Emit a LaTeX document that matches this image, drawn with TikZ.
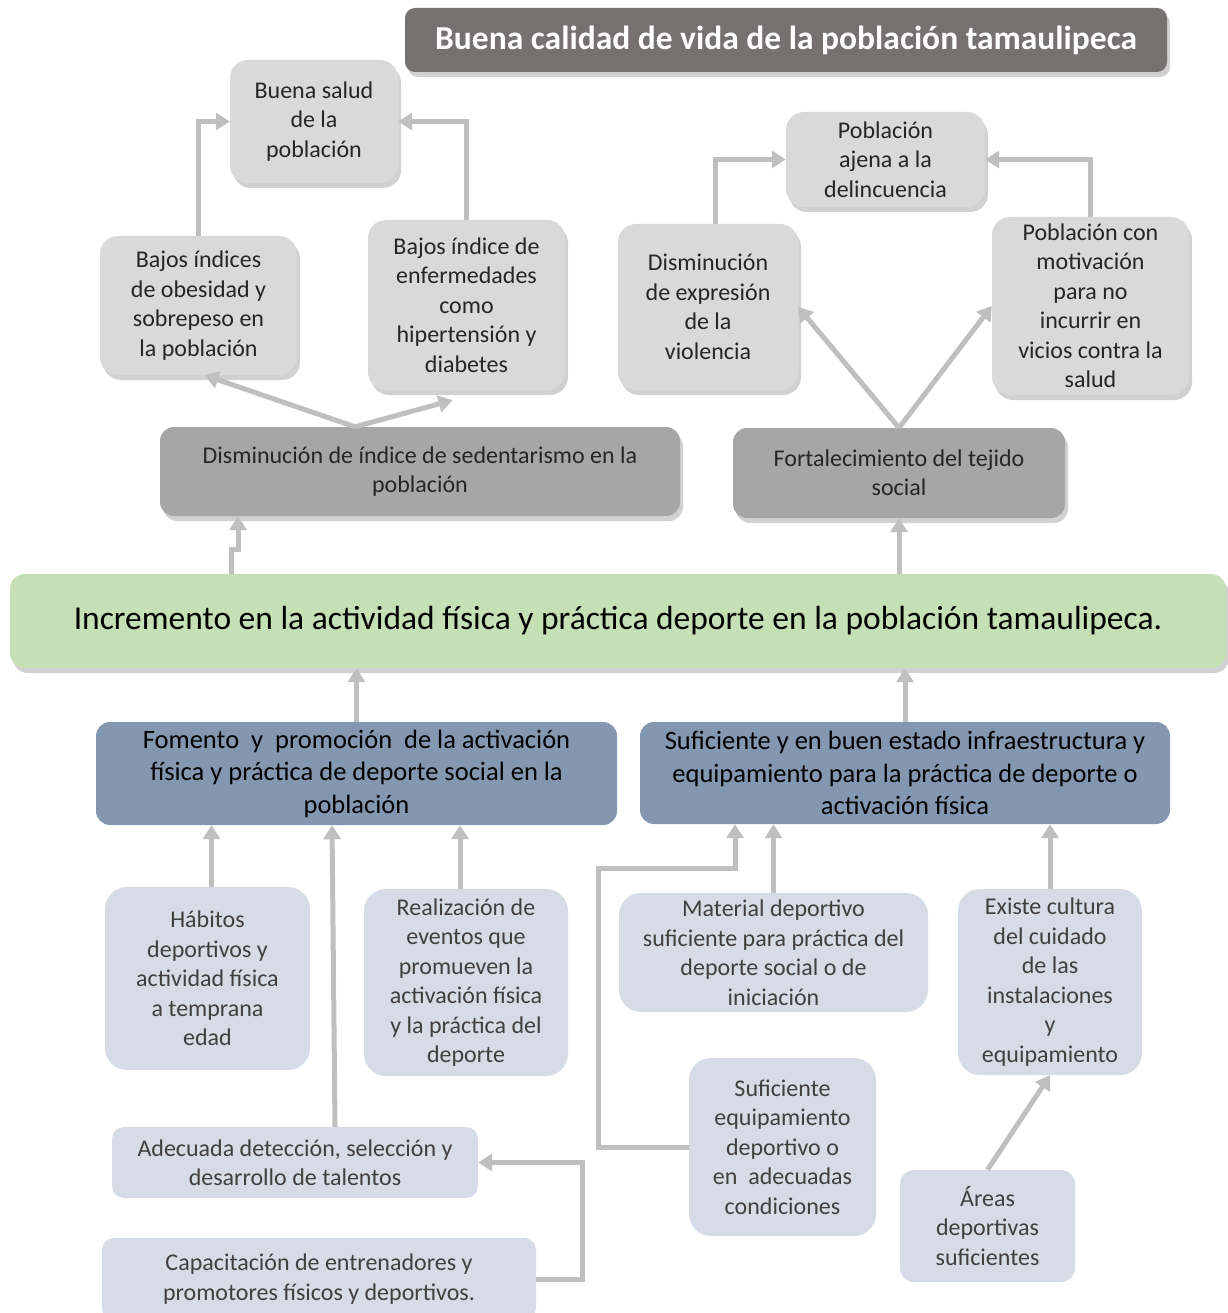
\documentclass[tikz,border=0pt]{standalone}
\usepackage{fontspec}
\setmainfont{Carlito}
\usetikzlibrary{positioning,arrows.meta,shadows}

\definecolor{titlegray}{HTML}{757171}
\definecolor{boxgray}{HTML}{D9D9D9}
\definecolor{midgray}{HTML}{A6A6A6}
\definecolor{goalgreen}{HTML}{C5E0B4}
\definecolor{causeblue}{HTML}{8497B0}
\definecolor{rootblue}{HTML}{D6DCE5}
\definecolor{arrowgray}{HTML}{BFBFBF}

\begin{document}
\begin{tikzpicture}[x=1pt, y=-1pt,
  boxbase/.style={align=center, inner sep=2pt, font=\fontsize{24}{29.5}\selectfont, text=black!85},
  shade/.style={drop shadow={shadow xshift=3pt, shadow yshift=-5pt, opacity=0.3, fill=black!60}},
  toptitle/.style={boxbase, rounded corners=10pt, fill=titlegray, text=white, shade, font=\fontsize{33.5}{40}\selectfont\bfseries},
  effect/.style={boxbase, rounded corners=18pt, fill=boxgray, shade},
  midbox/.style={boxbase, rounded corners=14pt, fill=midgray, shade},
  goal/.style={boxbase, rounded corners=15pt, fill=goalgreen, shade, text=black, font=\fontsize{33.5}{40}\selectfont},
  cause/.style={boxbase, rounded corners=14pt, fill=causeblue, text=black, font=\fontsize{26.5}{32.5}\selectfont},
  root/.style={boxbase, rounded corners=22pt, fill=rootblue, text=black!75},
  link/.style={draw=arrowgray, line width=5pt, -{Triangle[length=14pt,width=17pt]}}
]
\useasboundingbox (0,0) rectangle (1227,1313);

% Nodes
\node[toptitle, minimum width=762pt, minimum height=64pt] (vida) at (786,40) {Buena calidad de vida de la población tamaulipeca};

\node[effect, minimum width=168pt, minimum height=123pt] (salud) at (314,121.5) {Buena salud\\de la\\población};
\node[effect, minimum width=197pt, minimum height=139pt] (obes) at (198.5,305.5) {Bajos índices\\de obesidad y\\sobrepeso en\\la población};
\node[effect, minimum width=197pt, minimum height=170pt] (enf) at (466.5,305) {Bajos índice de\\enfermedades\\como\\hipertensión y\\diabetes};
\node[effect, minimum width=199pt, minimum height=95pt] (ajena) at (885.5,159.5) {Población\\ajena a la\\delincuencia};
\node[effect, minimum width=180pt, minimum height=166pt] (dis) at (708,307) {Disminución\\de expresión\\de la\\violencia};
\node[effect, minimum width=197pt, minimum height=178pt] (mot) at (1090.5,306) {Población con\\motivación\\para no\\incurrir en\\vicios contra la\\salud};

\node[midbox, minimum width=520pt, minimum height=89pt] (sed) at (420,471.5) {Disminución de índice de sedentarismo en la\\población};
\node[midbox, minimum width=332pt, minimum height=90pt] (fort) at (899,473) {Fortalecimiento del tejido\\social};

\node[goal, minimum width=1216pt, minimum height=94pt] (gr) at (618,621) {Incremento en la actividad física y práctica deporte en la población tamaulipeca.};

\node[cause, minimum width=521pt, minimum height=103pt] (fom) at (356.5,773.5) {Fomento\ \ y\ \ promoción\ \ de la activación\\física y práctica de deporte social en la\\población};
\node[cause, minimum width=530pt, minimum height=102pt] (inf) at (905,773) {Suficiente y en buen estado infraestructura y\\equipamiento para la práctica de deporte o\\activación física};

\node[root, minimum width=205pt, minimum height=183pt] (hab) at (207.5,978.5) {Hábitos\\deportivos y\\actividad física\\a temprana\\edad};
\node[root, minimum width=204pt, minimum height=187pt] (rea) at (466,982.5) {Realización de\\eventos que\\promueven la\\activación física\\y la práctica del\\deporte};
\node[root, minimum width=309pt, minimum height=119pt] (mat) at (773.5,952.5) {Material deportivo\\suficiente para práctica del\\deporte social o de\\iniciación};
\node[root, minimum width=184pt, minimum height=186pt] (exi) at (1050,982) {Existe cultura\\del cuidado\\de las\\instalaciones\\y\\equipamiento};
\node[root, minimum width=366pt, minimum height=71pt, rounded corners=12pt] (ade) at (295,1162.5) {Adecuada detección, selección y\\desarrollo de talentos};
\node[root, minimum width=434pt, minimum height=82pt, rounded corners=12pt] (cap) at (319,1279) {Capacitación de entrenadores y\\promotores físicos y deportivos.};
\node[root, minimum width=187pt, minimum height=178pt] (seq) at (782.5,1147) {Suficiente\\equipamiento\\deportivo o\\en\ \ adecuadas\\condiciones};
\node[root, minimum width=175pt, minimum height=112pt, rounded corners=14pt] (are) at (987.5,1226) {Áreas\\deportivas\\suficientes};

% Edges
\draw[link] (obes.north) |- (salud.west);
\draw[link] (enf.north) |- (salud.east);
\coordinate (sedtop) at ([xshift=-65pt]sed.north);
\draw[link] (sedtop) -- ([xshift=6pt]obes.south);
\draw[link] (sedtop) -- ([xshift=-14pt,yshift=-10pt]enf.south);
\draw[link] ([xshift=7pt]dis.north) |- (ajena.west);
\draw[link] (mot.north) |- (ajena.east);
\draw[link] (fort.north) -- (dis.east);
\draw[link] (fort.north) -- (mot.west);

\draw[link] ([xshift=-387pt]gr.north) -- ++(0,-24) -- ++(7,0) -- ([xshift=-182pt]sed.south);
\draw[link] (fort.south |- gr.north) -- (fort.south);
\draw[link] (fom.north) -- (fom.north |- gr.south);
\draw[link] (inf.north) -- (inf.north |- gr.south);

\draw[link] ([xshift=4pt]hab.north) -- ([xshift=4pt]hab.north |- fom.south);
\draw[link] ([xshift=40pt]ade.north) -- ([xshift=37pt]ade.north |- fom.south);
\draw[link] ([xshift=-6pt]rea.north) -- ([xshift=-6pt]rea.north |- fom.south);
\draw[link] (cap.east) -- ++(46,0) |- (ade.east);

\draw[link] (seq.west) -- ++(-90,0) -- ++(0,-279) -| ([xshift=-170pt]inf.south);
\draw[link] (mat.north) -- (mat.north |- inf.south);
\draw[link] (exi.north) -- (exi.north |- inf.south);
\draw[link] (are.north) -- (exi.south);
\end{tikzpicture}
\end{document}
